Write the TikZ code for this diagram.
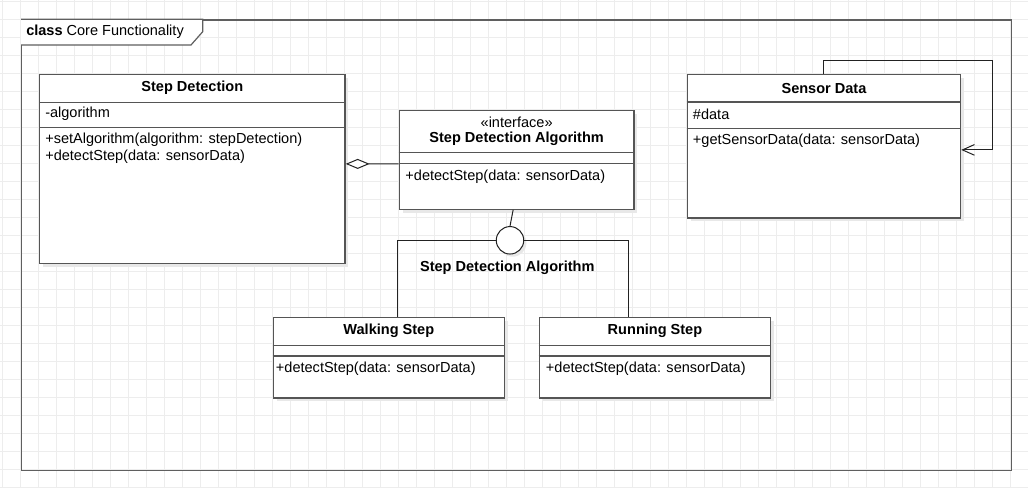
\documentclass[tikz,border=0pt]{standalone}
\usepackage{fontspec}
\setmainfont{Liberation Sans}
\usetikzlibrary{arrows.meta,calc,shadows}
\definecolor{gridc}{HTML}{EDEDED}
\definecolor{boxc}{HTML}{555555}
\definecolor{framec}{HTML}{5F5F5F}
\definecolor{connc}{HTML}{222222}
\begin{document}
\begin{tikzpicture}[x=0.75pt,y=-0.75pt,
  font=\fontsize{10.9}{12.5}\selectfont,
  gridline/.style={draw=gridc,line width=0.75pt},
  umlbox/.style={draw=boxc,line width=0.9pt,fill=white,anchor=north west,inner sep=0pt,
    drop shadow={shadow xshift=2.5pt,shadow yshift=-2.5pt,fill=black!9,opacity=1}},
  divider/.style={draw=boxc,line width=0.9pt},
  conn/.style={draw=connc,line width=0.75pt},
  txt/.style={anchor=west,inner sep=0pt},
  ttl/.style={inner sep=0pt,font=\fontsize{10.9}{12.5}\selectfont\bfseries},
  plain/.style={inner sep=0pt},
]
\useasboundingbox (0,0) rectangle (1028,488);
\fill[white] (0,0) rectangle (1028,488);
% background grid
\foreach \i in {0,...,56} \draw[gridline] ({2.7+18*\i},0) -- ({2.7+18*\i},488);
\foreach \j in {0,...,27} \draw[gridline] (0,{1.3+18*\j}) -- (1028,{1.3+18*\j});

% frame
\node[draw=framec,line width=1pt,anchor=north west,inner sep=0pt,
      minimum width=742.5pt,minimum height=337.8pt] (frame) at (21,19.3) {};
\filldraw[draw=framec,fill=white,line width=0.9pt] (frame.north west) -- ++(181.7,0) -- ++(0,12.4) -- ++(-11.7,13.3) -- ++(-170,0);
\node[txt] (ftitle) at (26,32) {\textbf{class} Core Functionality};

% boxes
\node[umlbox,minimum width=229.1pt,minimum height=141.75pt] (sd) at (39,74) {};
\node[umlbox,minimum width=176pt,minimum height=74pt] (ia) at (398.7,110) {};
\node[umlbox,minimum width=205pt,minimum height=107.5pt] (sdn) at (686.7,74) {};
\node[umlbox,minimum width=173.25pt,minimum height=60.5pt] (ws) at (272.7,316.7) {};
\node[umlbox,minimum width=173.5pt,minimum height=60.5pt] (rs) at (538.7,316.7) {};

% Step Detection
\node[ttl] (sdT) at ($(sd.north)+(0,14)$) {Step Detection};
\draw[divider] ($(sd.north west)+(0,28.3)$) -- ($(sd.north east)+(0,28.3)$);
\node[txt] (sdA) at ($(sd.north west)+(6,40)$) {-algorithm};
\draw[divider] ($(sd.north west)+(0,53.7)$) -- ($(sd.north east)+(0,53.7)$);
\node[txt] (sdM1) at ($(sd.north west)+(6,66)$) {+setAlgorithm(algorithm: stepDetection)};
\node[txt] (sdM2) at ($(sd.north west)+(6,82.7)$) {+detectStep(data: sensorData)};

% Interface
\node[plain] (iaS) at ($(ia.north)+(0,12.7)$) {«interface»};
\node[ttl] (iaT) at ($(ia.north)+(0,29)$) {Step Detection Algorithm};
\draw[divider] ($(ia.north west)+(0,42.3)$) -- ($(ia.north east)+(0,42.3)$);
\draw[divider] ($(ia.north west)+(0,53.3)$) -- ($(ia.north east)+(0,53.3)$);
\node[txt] (iaM) at ($(ia.north west)+(6.5,66.7)$) {+detectStep(data: sensorData)};

% Sensor Data
\node[ttl] (sdnT) at ($(sdn.north)+(0,14.3)$) {Sensor Data};
\draw[divider] ($(sdn.north west)+(0,28)$) -- ($(sdn.north east)+(0,28)$);
\node[txt] (sdnA) at ($(sdn.north west)+(6,40.3)$) {\#data};
\draw[divider] ($(sdn.north west)+(0,54.7)$) -- ($(sdn.north east)+(0,54.7)$);
\node[txt] (sdnM) at ($(sdn.north west)+(6,66.7)$) {+getSensorData(data: sensorData)};

% Walking Step
\node[ttl] (wsT) at ($(ws.north)+(0,14)$) {Walking Step};
\draw[divider] ($(ws.north west)+(0,29)$) -- ($(ws.north east)+(0,29)$);
\draw[divider] ($(ws.north west)+(0,39.3)$) -- ($(ws.north east)+(0,39.3)$);
\node[txt] (wsM) at ($(ws.north west)+(3,51.6)$) {+detectStep(data: sensorData)};

% Running Step
\node[ttl] (rsT) at ($(rs.north)+(0,14)$) {Running Step};
\draw[divider] ($(rs.north west)+(0,29)$) -- ($(rs.north east)+(0,29)$);
\draw[divider] ($(rs.north west)+(0,39.3)$) -- ($(rs.north east)+(0,39.3)$);
\node[txt] (rsM) at ($(rs.north west)+(7,51.6)$) {+detectStep(data: sensorData)};

% aggregation
\draw[conn,-{Diamond[open,fill=white,length=18pt,width=7.5pt]}] ($(ia.west)+(0,3.95)$) -- ($(sd.east)+(0,-5.2)$);

% lollipop
\node[circle,draw=connc,line width=0.75pt,fill=white,minimum size=20.6pt,inner sep=0pt,
      drop shadow={shadow xshift=2pt,shadow yshift=-2pt,fill=black!9,opacity=1}] (lp) at (510,240.3) {};
\draw[conn] ($(ia.south)+(-3.5,0)$) -- (lp.north);
\draw[conn] (lp.west) -| ($(ws.north)+(8.5,0)$);
\draw[conn] (lp.east) -| ($(rs.north)+(-26.65,0)$);
\node[ttl] (lpl) at (507.3,267.7) {Step Detection Algorithm};

% self loop
\coordinate (loopc) at (992.7,60.7);
\draw[conn,-{Straight Barb[length=9pt,width=8pt]}] (sdn.north) |- (loopc) |- ($(sdn.east)+(0,3.65)$);
\end{tikzpicture}
\end{document}
